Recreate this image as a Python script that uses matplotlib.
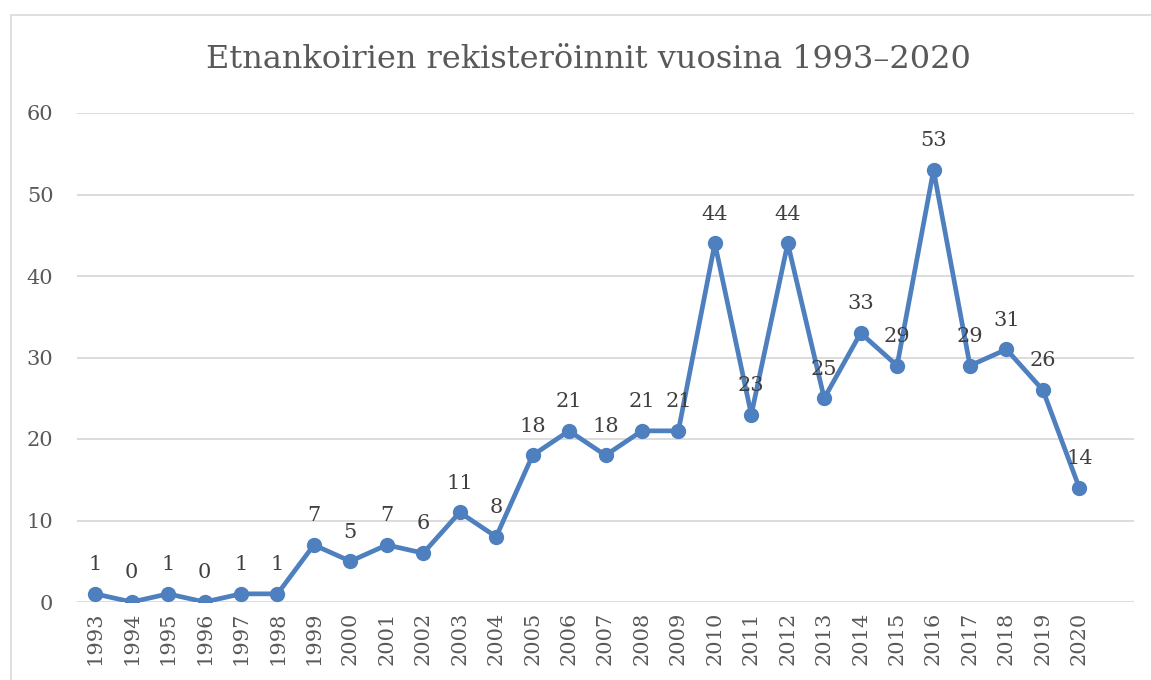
import matplotlib.pyplot as plt
from matplotlib.patches import Rectangle

years = [str(y) for y in range(1993, 2021)]
registrations = [1, 0, 1, 0, 1, 1, 7, 5, 7, 6, 11, 8, 18, 21, 18, 21, 21,
                 44, 23, 44, 25, 33, 29, 53, 29, 31, 26, 14]
yticks = [0, 10, 20, 30, 40, 50, 60]

blue = '#4E7FBE'
grey = '#595959'
plt.rcParams['font.family'] = ['DejaVu Serif']

fig = plt.figure(figsize=(11.51, 6.8), dpi=100)
# outer chart frame
fig.patches.append(Rectangle((11 / 1151, -0.1), 1.2, 1.1 - 15 / 680,
                             transform=fig.transFigure, fill=False,
                             edgecolor='#D9D9D9', linewidth=1.2))

ax = fig.add_axes([77 / 1151, 1 - 602 / 680, (1134 - 77) / 1151, (602 - 113) / 680])
x = list(range(len(years)))
ax.plot(x, registrations, color=blue, linewidth=3.4, marker='o', markersize=10,
        solid_joinstyle='round', zorder=3)

for xi, v in zip(x, registrations):
    ax.annotate(str(v), (xi, v), xytext=(0, 17), textcoords='offset points',
                ha='center', va='baseline', fontsize=15, color='#404040')

ax.set_xlim(-0.5, len(years) + 0.5)
ax.set_ylim(0, 60)
ax.set_yticks(yticks)
ax.set_xticks(x)
ax.set_xticklabels(years, rotation=90)
ax.tick_params(axis='both', length=0, labelsize=15, labelcolor=grey)
ax.tick_params(axis='y', pad=17)
ax.tick_params(axis='x', pad=7)
ax.grid(axis='y', color='#D9D9D9', linewidth=1.3)
ax.set_axisbelow(True)
for s in ax.spines.values():
    s.set_visible(False)

fig.text(588 / 1151, 1 - 59 / 680, 'Etnankoirien rekisteröinnit vuosina 1993–2020',
         ha='center', va='center', fontsize=23, color=grey)

fig.savefig('out.png', dpi=100)
